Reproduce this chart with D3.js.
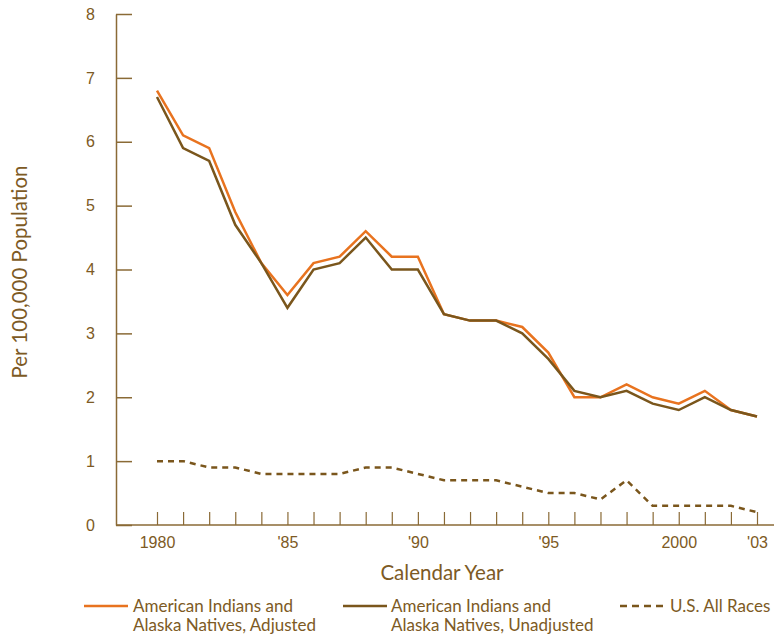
<!DOCTYPE html>
<html>
<head>
<meta charset="utf-8">
<script src="https://cdn.jsdelivr.net/npm/d3@7"></script>
<style>
  body { margin: 0; background: #fff; }
  svg { display: block; font-family: "Lato", "Noto Sans", sans-serif; }
  .axis-text { fill: #7d5a24; font-size: 16px; }
  .axis-label { fill: #7d5a24; font-size: 20.5px; }
  .legend-text { fill: #7d5a24; font-size: 17px; }
</style>
</head>
<body>
<div id="chart"></div>
<script>
const YEARS = d3.range(1980, 2004);
const ADJUSTED = [6.8, 6.1, 5.9, 4.9, 4.1, 3.6, 4.1, 4.2, 4.6, 4.2, 4.2, 3.3, 3.2, 3.2, 3.1, 2.7, 2.0, 2.0, 2.2, 2.0, 1.9, 2.1, 1.8, 1.7];
const UNADJUSTED = [6.7, 5.9, 5.7, 4.7, 4.1, 3.4, 4.0, 4.1, 4.5, 4.0, 4.0, 3.3, 3.2, 3.2, 3.0, 2.6, 2.1, 2.0, 2.1, 1.9, 1.8, 2.0, 1.8, 1.7];
const US_ALL = [1.0, 1.0, 0.9, 0.9, 0.8, 0.8, 0.8, 0.8, 0.9, 0.9, 0.8, 0.7, 0.7, 0.7, 0.6, 0.5, 0.5, 0.4, 0.7, 0.3, 0.3, 0.3, 0.3, 0.2];
const X_LABELS = new Map([[1980, "1980"], [1985, "'85"], [1990, "'90"], [1995, "'95"], [2000, "2000"], [2003, "'03"]]);
const Y_TICKS = d3.range(0, 9);

const ORANGE = "#e8731f";
const BROWN = "#7a561c";
const AXIS = "#8a6a36";

const width = 774;
const height = 640;
const axisX = 116;

const svg = d3.select("#chart").append("svg").attr("width", width).attr("height", height);

const x = d3.scaleLinear().domain([1980, 2003]).range([157, 757]);
const y = d3.scaleLinear().domain([0, 8]).range([525, 14]);

// y axis, ticks pointing right
svg
  .append("g")
  .attr("transform", `translate(${axisX}, 0)`)
  .call(d3.axisLeft(y).tickValues(Y_TICKS).tickSize(-16).tickSizeOuter(0).tickPadding(21))
  .call((g) => g.select(".domain").attr("stroke", AXIS).attr("stroke-width", 1.5))
  .call((g) => g.selectAll(".tick line").attr("stroke", AXIS).attr("stroke-width", 1.5))
  .call((g) => g.selectAll("text").attr("class", "axis-text").attr("font-family", null).attr("font-size", null));

// x axis, ticks pointing up
svg
  .append("g")
  .attr("transform", `translate(0, ${y(0)})`)
  .call(
    d3.axisBottom(x)
      .tickValues(YEARS)
      .tickSize(-13)
      .tickSizeOuter(0)
      .tickPadding(12)
      .tickFormat((d) => X_LABELS.get(d) || ""),
  )
  .call((g) => g.select(".domain").remove())
  .call((g) => g.selectAll(".tick line").attr("stroke", AXIS).attr("stroke-width", 1.2))
  .call((g) => g.selectAll("text").attr("class", "axis-text").attr("font-family", null).attr("font-size", null));

svg
  .append("line")
  .attr("x1", axisX)
  .attr("x2", width)
  .attr("y1", y(0))
  .attr("y2", y(0))
  .attr("stroke", AXIS)
  .attr("stroke-width", 1.5);

svg
  .append("text")
  .attr("class", "axis-label")
  .attr("x", 442)
  .attr("y", 580)
  .attr("text-anchor", "middle")
  .text("Calendar Year");

svg
  .append("text")
  .attr("class", "axis-label")
  .attr("transform", "translate(27, 272) rotate(-90)")
  .attr("text-anchor", "middle")
  .text("Per 100,000 Population");

const line = d3
  .line()
  .x((d, i) => x(YEARS[i]))
  .y((d) => y(d));

svg.append("path").datum(US_ALL).attr("d", line).attr("fill", "none")
  .attr("stroke", BROWN).attr("stroke-width", 2.5).attr("stroke-dasharray", "6,5");

svg.append("path").datum(ADJUSTED).attr("d", line).attr("fill", "none")
  .attr("stroke", ORANGE).attr("stroke-width", 2.5).attr("stroke-linejoin", "miter");

svg.append("path").datum(UNADJUSTED).attr("d", line).attr("fill", "none")
  .attr("stroke", BROWN).attr("stroke-width", 2.5).attr("stroke-linejoin", "miter");

// legend
const legendItems = [
  { x: 84, len: 44, textX: 133, color: ORANGE, dash: null, lines: ["American Indians and", "Alaska Natives, Adjusted"] },
  { x: 343, len: 44, textX: 391, color: BROWN, dash: null, lines: ["American Indians and", "Alaska Natives, Unadjusted"] },
  { x: 620, len: 47, textX: 670, color: BROWN, dash: "7,5", lines: ["U.S. All Races"] },
];

const legend = svg.append("g").attr("transform", "translate(0, 606)");
legendItems.forEach((item) => {
  legend
    .append("line")
    .attr("x1", item.x)
    .attr("x2", item.x + item.len)
    .attr("y1", 0)
    .attr("y2", 0)
    .attr("stroke", item.color)
    .attr("stroke-width", 2.5)
    .attr("stroke-dasharray", item.dash);
  const text = legend
    .append("text")
    .attr("class", "legend-text")
    .attr("x", item.textX)
    .attr("y", 6);
  item.lines.forEach((l, i) => {
    text.append("tspan").attr("x", item.textX).attr("dy", i === 0 ? 0 : 19).text(l);
  });
});
</script>
</body>
</html>
